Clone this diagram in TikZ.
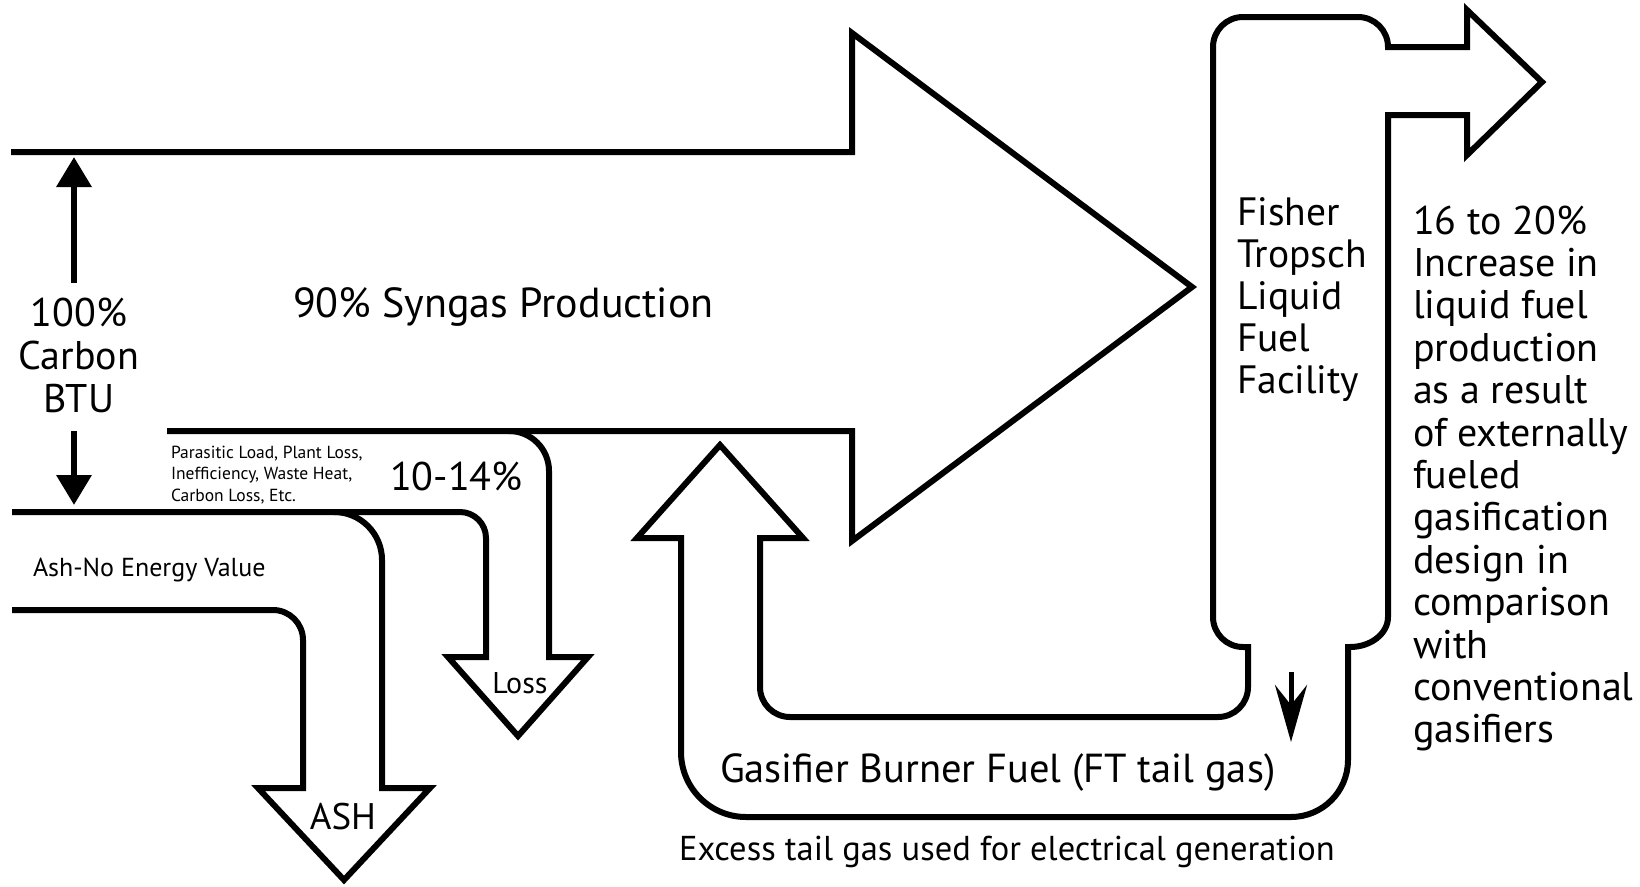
\documentclass[tikz,border=0pt]{standalone}
\usepackage{fontspec}
\setmainfont{PT Sans}
\usetikzlibrary{arrows.meta}
\newcommand{\mystack}[2]{\begin{tabular}[t]{@{}#1@{}}#2\end{tabular}}
\begin{document}
\begin{tikzpicture}[x=1bp,y=-1bp,
  flow/.style={draw=black, line width=6bp, line join=miter, miter limit=12},
  lbl/.style={inner sep=0pt, outer sep=0pt, text=black},
  bigarrow/.style={line width=6.5bp, -{Triangle[length=30bp,width=34bp]}},
  neckarrow/.style={line width=5bp, -{Stealth[length=57bp,width=32bp,inset=20bp]}},
  fs/.style 2 args={font=\fontsize{#1bp}{#2bp}\selectfont}]
\useasboundingbox (0,0) rectangle (1640,886);
\fill[white] (0,0) rectangle (1640,886);

% main syngas arrow
\draw[flow] (11,152) -- (852,152) -- (852,33) -- (1192,287) -- (852,541) -- (852,431) -- (167,431);

% loss arrow
\draw[flow] (509,431) arc[start angle=-90,end angle=0,radius=40] -- (549,657) -- (588,657) -- (518,736)
  -- (448,657) -- (486,657) -- (486,538) arc[start angle=0,end angle=-90,radius=26] -- (12,512);

% ash arrow
\draw[flow] (334,512) arc[start angle=-90,end angle=0,radius=48] -- (382,788) -- (430,788) -- (344,880)
  -- (258,788) -- (303,788) -- (303,640) arc[start angle=0,end angle=-90,radius=30] -- (12,610);

% gasifier burner fuel loop + FT column + product arrow
\draw[flow] (720,445) -- (803,538) -- (760,538) -- (760,687) arc[start angle=180,end angle=90,radius=30]
  -- (1218,717) arc[start angle=90,end angle=0,radius=30] -- (1248,647) -- (1243,647)
  arc[start angle=90,end angle=180,radius=30] -- (1213,47) arc[start angle=180,end angle=270,radius=30]
  -- (1358,17) arc[start angle=270,end angle=360,radius=30] -- (1467,47) -- (1467,10) -- (1542,82)
  -- (1467,155) -- (1467,115) -- (1388,115) -- (1388,617)
  arc[start angle=0,end angle=90,x radius=38,y radius=30] -- (1348,647) -- (1348,760)
  arc[start angle=0,end angle=90,radius=57] -- (746,817) arc[start angle=90,end angle=180,radius=65]
  -- (681,538) -- (637,538) -- cycle;

% texts
\node[lbl, fs={42}{42}, anchor=base west] (syn) at (293,317) {90\% Syngas Production};
\node[lbl, fs={40}{43}, anchor=base] (cbtu) at (79,326) {\mystack{c}{100\%\\Carbon\\BTU}};
\node[lbl, fs={17.5}{21.7}, anchor=base west] (para) at (171,458) {\mystack{l}{Parasitic Load, Plant Loss,\\Inefficiency, Waste Heat,\\Carbon Loss, Etc.}};
\node[lbl, fs={40}{40}, anchor=base west] (pct) at (390,490) {10-14\%};
\node[lbl, fs={26}{26}, anchor=base west] (ashnv) at (33,576) {Ash-No Energy Value};
\node[lbl, fs={30}{30}, anchor=base] (loss) at (520,693) {Loss};
\node[lbl, fs={37}{37}, anchor=base] (ash) at (343,829) {ASH};
\node[lbl, fs={39.5}{42}, anchor=base west] (ft) at (1237,225) {\mystack{l}{Fisher\\Tropsch\\Liquid\\Fuel\\Facility}};
\node[lbl, fs={40}{42.4}, anchor=base west] (inc) at (1413,234) {\mystack{l}{16 to 20\%\\Increase in\\liquid fuel\\production\\as a result\\of externally\\fueled\\gasification\\design in\\comparison\\with\\conventional\\gasifiers}};
\node[lbl, fs={40.5}{40.5}, anchor=base west] (gbf) at (720,782) {Gasifier Burner Fuel (FT tail gas)};
\node[lbl, fs={34.5}{34.5}, anchor=base west] (exc) at (679,860) {Excess tail gas used for electrical generation};

% small arrows
\coordinate (upS) at (74,283);
\coordinate (upE) at (74,157);
\coordinate (dnS) at (74,431);
\coordinate (dnE) at (74,505);
\coordinate (nkS) at (1291,672);
\coordinate (nkE) at (1291,742);
\draw[bigarrow] (upS) -- (upE);
\draw[bigarrow] (dnS) -- (dnE);
\draw[neckarrow] (nkS) -- (nkE);
\end{tikzpicture}
\end{document}
